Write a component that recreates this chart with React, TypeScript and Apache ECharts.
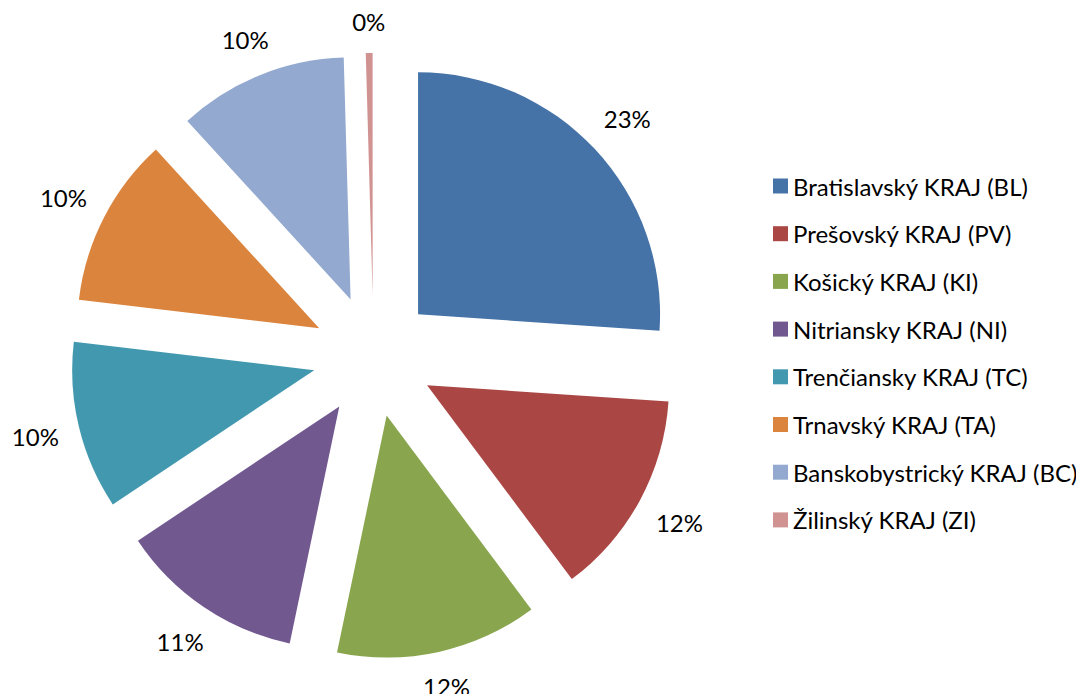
import React, { useEffect, useRef } from "react";
import * as echarts from "echarts";

const categories = [
  "Bratislavský KRAJ (BL)",
  "Prešovský KRAJ (PV)",
  "Košický KRAJ (KI)",
  "Nitriansky KRAJ (NI)",
  "Trenčiansky KRAJ (TC)",
  "Trnavský KRAJ (TA)",
  "Banskobystrický KRAJ (BC)",
  "Žilinský KRAJ (ZI)",
];
const values = [23.0, 12.1, 11.9, 10.9, 9.9, 10.0, 10.0, 0.4];
const colors = ["#4572A7", "#AA4643", "#89A54E", "#71588F", "#4198AF", "#DB843D", "#93A9CF", "#D19392"];

const FONT = "Lato";
const CX = 373.5;
const CY = 356;
const R = 242;
const EXPLODE = 61;

export default function App() {
  const ref = useRef<HTMLDivElement>(null);
  useEffect(() => {
    if (!ref.current) return;
    const chart = echarts.init(ref.current, undefined, { renderer: "svg" });
    const mainData = categories.map((name, i) => ({
      name,
      value: values[i],
      selected: true,
      itemStyle: { color: colors[i] },
      select: { itemStyle: { color: colors[i] } },
    }));
    const labelData = categories.map((name, i) => ({ name, value: values[i] }));
    chart.setOption({
      animation: false,
      backgroundColor: "#ffffff",
      legend: {
        orient: "vertical",
        left: 768,
        top: 169,
        icon: "rect",
        itemWidth: 15,
        itemHeight: 15,
        itemGap: 23.7,
        data: categories,
        selectedMode: false,
        textStyle: { fontFamily: FONT, fontSize: 24, color: "#000" },
      },
      series: [
        {
          type: "pie",
          center: [CX, CY],
          radius: [0, R],
          startAngle: 90,
          selectedMode: "multiple",
          selectedOffset: EXPLODE,
          silent: true,
          label: { show: false },
          labelLine: { show: false },
          emphasis: { disabled: true },
          data: mainData,
        },
        {
          type: "pie",
          center: [CX, CY],
          radius: [R + EXPLODE + 20, R + EXPLODE + 60],
          startAngle: 90,
          silent: true,
          legendHoverLink: false,
          itemStyle: { color: "rgba(0,0,0,0)" },
          emphasis: { disabled: true },
          labelLine: { show: false },
          label: {
            show: true,
            position: "inside",
            fontFamily: FONT,
            fontSize: 24,
            color: "#000",
            formatter: (p: any) => Math.round(p.value) + "%",
          },
          labelLayout: (p: any) => {
            const r = p.labelRect;
            const mx = r.x + r.width / 2 - CX;
            const my = r.y + r.height / 2 - CY;
            const len = Math.sqrt(mx * mx + my * my) || 1;
            const ux = mx / len;
            const uy = my / len;
            const d = R + EXPLODE + 19 + (r.width / 2) * Math.abs(ux) + 12 * Math.abs(uy);
            return { x: CX + d * ux, y: CY + d * uy, align: "center", verticalAlign: "middle" };
          },
          data: labelData,
        },
      ],
    });
    return () => chart.dispose();
  }, []);
  return <div ref={ref} style={{ position: "absolute", left: 0, top: 0, width: 1076, height: 694 }} />;
}
